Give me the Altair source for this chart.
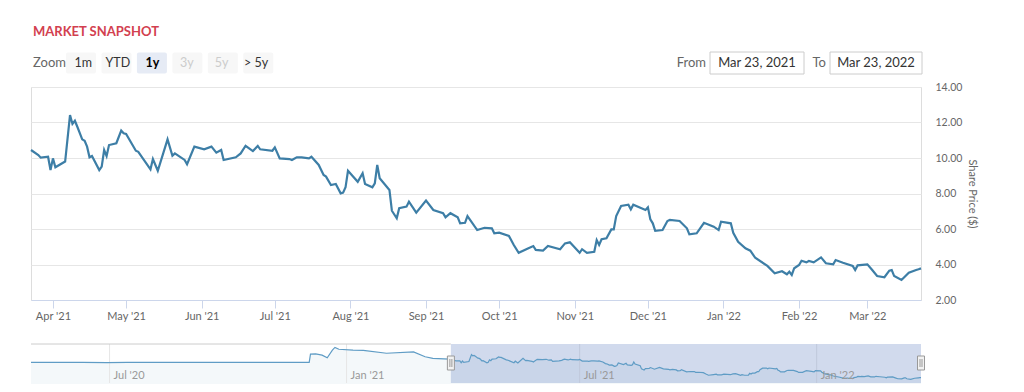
import altair as alt
import pandas as pd

# ---------------- data ----------------
title_text = "MARKET SNAPSHOT"
zoom_label = "Zoom"
zoom_buttons = ["1m", "YTD", "1y", "3y", "5y", "> 5y"]
selected_button = "1y"
disabled_buttons = ["3y", "5y"]
range_from = "2021-03-23"
range_to = "2022-03-23"
range_from_label = "Mar 23, 2021"
range_to_label = "Mar 23, 2022"
from_label = "From"
to_label = "To"
y_title = "Share Price ($)"
y_ticks = [2, 4, 6, 8, 10, 12, 14]
x_ticks = ["2021-04-01", "2021-05-01", "2021-06-01", "2021-07-01", "2021-08-01",
           "2021-09-01", "2021-10-01", "2021-11-01", "2021-12-01", "2022-01-01",
           "2022-02-01", "2022-03-01"]
nav_start = "2020-05-01"
nav_ticks = ["2020-07-01", "2021-01-01", "2021-07-01", "2022-01-01"]
nav_tick_labels = ["Jul '20", "Jan '21", "Jul '21", "Jan '22"]

# days after Mar 23, 2021 and closing share price
day_offsets = [0, 3, 4, 7, 8, 9, 10, 14, 16, 17, 18, 19, 21, 22, 23, 24, 25, 28, 29, 30,
               31, 32, 35, 37, 38, 39, 43, 44, 49, 50, 52, 56, 58, 59, 63, 64, 67, 71, 74, 76,
               78, 79, 84, 86, 88, 91, 93, 94, 99, 100, 102, 106, 107, 109, 111, 114, 115, 118, 120, 121,
               123, 125, 127, 128, 129, 130, 134, 136, 137, 140, 141, 142, 143, 147, 148, 150, 151, 154, 155, 158,
               162, 165, 169, 170, 172, 175, 176, 178, 179, 183, 186, 189, 190, 192, 196, 198, 200, 204, 206, 207,
               210, 212, 217, 219, 221, 225, 226, 228, 231, 232, 233, 234, 236, 238, 239, 240, 242, 245, 246, 247,
               252, 253, 254, 255, 256, 259, 261, 262, 266, 269, 270, 273, 276, 280, 282, 283, 287, 288, 290, 293,
               295, 297, 302, 305, 308, 310, 311, 312, 313, 315, 316, 318, 319, 321, 324, 326, 329, 330, 333, 337,
               338, 339, 343, 345, 347, 350, 352, 353, 354, 357, 360, 363, 364, 365]
share_price = [10.45, 10.17, 10.02, 10.07, 9.32, 9.98, 9.48, 9.80, 12.42, 11.92, 12.10, 11.76, 11.05, 10.97, 10.64, 10.04, 10.11, 9.32, 9.51, 10.45,
               10.11, 10.73, 10.83, 11.54, 11.39, 11.35, 10.41, 10.35, 9.36, 9.94, 9.28, 11.05, 10.13, 10.26, 9.89, 9.65, 10.64, 10.49, 10.64, 10.30,
               10.45, 9.89, 10.04, 10.26, 10.69, 10.39, 10.68, 10.49, 10.41, 10.60, 9.98, 9.94, 9.89, 10.04, 10.04, 9.98, 10.07, 9.61, 9.04, 8.95,
               8.48, 8.54, 8.01, 8.05, 8.35, 9.28, 8.66, 9.14, 8.54, 8.35, 8.57, 9.61, 8.86, 8.20, 7.03, 6.60, 7.17, 7.26, 7.54, 6.92,
               7.60, 7.07, 6.89, 6.66, 6.89, 6.66, 6.32, 6.35, 6.73, 5.94, 6.07, 6.04, 5.76, 5.79, 5.61, 5.10, 4.66, 4.91, 5.04, 4.82,
               4.78, 5.04, 4.86, 5.19, 5.25, 4.66, 4.86, 4.66, 4.72, 5.38, 5.10, 5.42, 5.48, 5.98, 5.98, 6.73, 7.30, 7.37, 7.11, 7.37,
               7.07, 7.22, 6.55, 6.32, 5.90, 5.94, 6.45, 6.51, 6.45, 6.04, 5.70, 5.76, 6.35, 6.13, 5.94, 6.41, 6.32, 5.79, 5.28, 4.91,
               4.78, 4.38, 3.92, 3.50, 3.62, 3.45, 3.59, 3.41, 3.79, 3.97, 4.21, 4.12, 4.20, 4.12, 4.40, 4.07, 4.01, 4.25, 4.10, 3.92,
               3.69, 3.95, 4.01, 3.69, 3.35, 3.28, 3.65, 3.69, 3.35, 3.13, 3.54, 3.69, 3.73, 3.78]

# earlier history shown only in the navigator
history_dates = ["2020-05-01", "2020-06-10", "2020-06-29", "2020-07-15", "2020-09-01", "2020-10-15",
                 "2020-12-03", "2020-12-04", "2020-12-08", "2020-12-13", "2020-12-17", "2020-12-21",
                 "2020-12-23", "2020-12-26", "2021-01-06", "2021-01-14", "2021-02-01", "2021-02-22",
                 "2021-03-03", "2021-03-09", "2021-03-22"]
history_price = [9.5, 9.5, 9.4, 9.5, 9.45, 9.5,
                 9.5, 12.6, 12.7, 12.2, 11.2, 14.1,
                 15.1, 14.4, 14.1, 14.0, 12.9, 13.4,
                 11.6, 11.0, 10.7]

# ---------------- build ----------------
def ms(s):
    return int(pd.Timestamp(s, tz="UTC").timestamp() * 1000)

start = pd.Timestamp(range_from)
dates = [(start + pd.Timedelta(days=d)).strftime("%Y-%m-%d") for d in day_offsets]
main_df = pd.DataFrame({"date": dates, "price": share_price})
nav_df = pd.DataFrame({"date": history_dates + dates, "price": history_price + share_price})
btn_df = pd.DataFrame({"label": zoom_buttons})
sel_df = pd.DataFrame({"start": [range_from], "end": [range_to], "nav0": [nav_start]})
handle_df = pd.DataFrame({"date": [range_from, range_to]})
navtick_df = pd.DataFrame({"date": nav_ticks, "label": nav_tick_labels})

W, H = 890, 213
FONT = "Lato"

main_x = alt.Scale(type="utc", domain=[ms(range_from), ms(range_to)])
main_y = alt.Scale(domain=[2, 14], nice=False, zero=False)
nav_x = alt.Scale(type="utc", domain=[ms(nav_start), ms(range_to)], range=[0, W])
nav_y = alt.Scale(domain=[2.5, 16], nice=False, zero=False, range=[294, 258])
btn_x = alt.Scale(domain=zoom_buttons, range=[35, 242.3], paddingInner=0.154, paddingOuter=0)

# header
title = alt.Chart(pd.DataFrame({"t": [title_text]})).mark_text(
    align="left", baseline="middle", font=FONT, fontSize=13, fontWeight="bold", color="#d2404f"
).encode(text="t:N", x=alt.value(2), y=alt.value(-55))

zoom_txt = alt.Chart(pd.DataFrame({"t": [zoom_label]})).mark_text(
    align="left", baseline="middle", font=FONT, fontSize=13, color="#666666"
).encode(text="t:N", x=alt.value(2), y=alt.value(-24))

btn_bg = alt.Chart(btn_df).mark_bar(cornerRadius=2).encode(
    x=alt.X("label:N", scale=btn_x, axis=None),
    y=alt.value(-34.5), y2=alt.value(-13.5),
    color=alt.condition(alt.datum.label == selected_button, alt.value("#e6ebf5"), alt.value("#f7f7f7")),
)
btn_txt = alt.Chart(btn_df).mark_text(baseline="middle", font=FONT, fontSize=12.5).encode(
    x=alt.X("label:N", scale=btn_x, axis=None),
    y=alt.value(-24),
    text="label:N",
    color=alt.condition(alt.FieldOneOfPredicate(field="label", oneOf=disabled_buttons),
                        alt.value("#cccccc"), alt.value("#333333")),
).transform_filter(alt.datum.label != selected_button)
btn_sel = alt.Chart(btn_df).mark_text(baseline="middle", font=FONT, fontSize=12.5,
                                      fontWeight="bold", color="#000000").encode(
    x=alt.X("label:N", scale=btn_x, axis=None),
    y=alt.value(-24),
    text="label:N",
).transform_filter(alt.datum.label == selected_button)

def box(x0, x1, label):
    r = alt.Chart(pd.DataFrame({"t": [label]})).mark_rect(
        fill="#ffffff", stroke="#cccccc", strokeWidth=1
    ).encode(x=alt.value(x0), x2=alt.value(x1), y=alt.value(-35), y2=alt.value(-13))
    t = alt.Chart(pd.DataFrame({"t": [label]})).mark_text(
        baseline="middle", font=FONT, fontSize=13, color="#333333"
    ).encode(text="t:N", x=alt.value((x0 + x1) / 2), y=alt.value(-24))
    return [r, t]

def label_txt(x, label):
    return alt.Chart(pd.DataFrame({"t": [label]})).mark_text(
        align="right", baseline="middle", font=FONT, fontSize=13, color="#666666"
    ).encode(text="t:N", x=alt.value(x), y=alt.value(-24))

header = [title, zoom_txt, btn_bg, btn_txt, btn_sel,
          label_txt(675, from_label), *box(679, 773, range_from_label),
          label_txt(795, to_label), *box(799, 891, range_to_label)]

# main chart
main_line = alt.Chart(main_df).mark_line(color="#3d7ea6", strokeWidth=2.2).encode(
    x=alt.X("date:T", scale=main_x,
            axis=alt.Axis(values=[ms(t) for t in x_ticks], format="%b '%y", labelColor="#666666",
                          labelFont=FONT, labelFontSize=11, tickColor="#ccd6eb", domainColor="#ccd6eb",
                          tickSize=8, labelPadding=2, grid=False, title=None, zindex=1, labelFlush=False)),
    y=alt.Y("price:Q", scale=main_y,
            axis=alt.Axis(orient="right", values=y_ticks, format=".2f", grid=True, gridColor="#e6e6e6",
                          domain=False, ticks=False, labelPadding=14, labelColor="#666666",
                          labelFont=FONT, labelFontSize=10.5, title=y_title, titleColor="#666666",
                          titleFont=FONT, titleFontSize=11, titleFontWeight="normal", titlePadding=5)),
)

# navigator
nav_area = alt.Chart(nav_df).mark_area(color="#4a85ad", opacity=0.06).encode(
    x=alt.X("date:T", scale=nav_x, axis=None),
    y=alt.Y("price:Q", scale=nav_y, axis=None),
    y2=alt.value(296),
)
nav_grid = alt.Chart(navtick_df).mark_rule(color="#e6e6e6", strokeWidth=1).encode(
    x=alt.X("date:T", scale=nav_x, axis=None), y=alt.value(257), y2=alt.value(296))
nav_outline = alt.Chart(sel_df).mark_rule(color="#cccccc", strokeWidth=1).encode(
    x=alt.X("nav0:T", scale=nav_x, axis=None), x2="start:T", y=alt.value(257))
nav_mask = alt.Chart(sel_df).mark_rect(color="#6685c2", opacity=0.3).encode(
    x=alt.X("start:T", scale=nav_x, axis=None), x2="end:T", y=alt.value(257), y2=alt.value(296))
nav_line = alt.Chart(nav_df).mark_line(color="#5f9cc5", strokeWidth=1.2).encode(
    x=alt.X("date:T", scale=nav_x, axis=None),
    y=alt.Y("price:Q", scale=nav_y, axis=None),
)
nav_labels = alt.Chart(navtick_df).mark_text(
    align="left", baseline="middle", dx=4, font=FONT, fontSize=11, color="#999999"
).encode(x=alt.X("date:T", scale=nav_x, axis=None), y=alt.value(289), text="label:N")
handles = alt.Chart(handle_df).mark_rect(
    fill="#f2f2f2", stroke="#999999", strokeWidth=1, xOffset=-3.5, x2Offset=3.5
).encode(x=alt.X("date:T", scale=nav_x, axis=None), x2="date:T", y=alt.value(269), y2=alt.value(283))
grip_l = alt.Chart(handle_df).mark_rule(color="#999999", strokeWidth=1, xOffset=-1).encode(
    x=alt.X("date:T", scale=nav_x, axis=None), y=alt.value(272), y2=alt.value(280))
grip_r = alt.Chart(handle_df).mark_rule(color="#999999", strokeWidth=1, xOffset=1).encode(
    x=alt.X("date:T", scale=nav_x, axis=None), y=alt.value(272), y2=alt.value(280))

chart = alt.layer(
    *header, main_line,
    nav_area, nav_grid, nav_mask, nav_line, nav_outline, nav_labels, handles, grip_l, grip_r,
).resolve_scale(x="independent", y="independent", color="independent").properties(
    width=W, height=H,
    padding={"left": 23, "top": 79, "right": 95, "bottom": 84},
    autosize=alt.AutoSizeParams(type="none"),
    background="#ffffff",
).configure_view(stroke=None).configure(font=FONT)

chart.save("out.html", embed_options={"renderer": "svg", "actions": False})
